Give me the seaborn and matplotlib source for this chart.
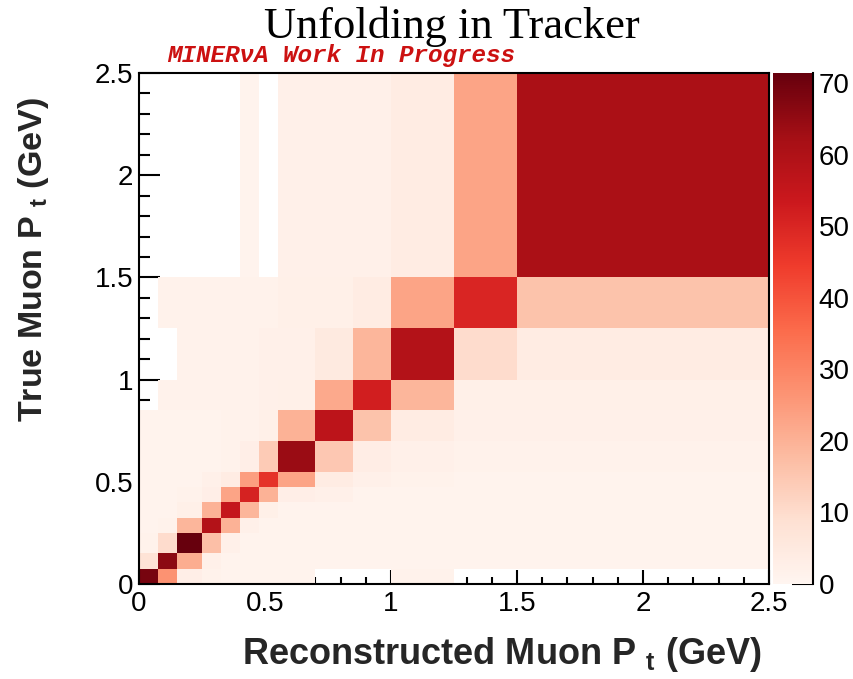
import numpy as np
import pandas as pd
import matplotlib
matplotlib.use("Agg")
import matplotlib.pyplot as plt
from matplotlib.ticker import MultipleLocator, FixedLocator, FuncFormatter
import seaborn as sns

# ---------------- data ----------------
x_edges = [0, 0.075, 0.15, 0.25, 0.325, 0.4, 0.475, 0.55, 0.7, 0.85, 1.0, 1.25, 1.5, 2.5]
y_edges = [0, 0.075, 0.15, 0.25, 0.325, 0.4, 0.475, 0.55, 0.7, 0.85, 1.0, 1.25, 1.5, 2.5]
nan = np.nan
# rows: true-Pt bins from bottom (0) to top (12); columns: reco-Pt bins left to right
row_00 = [69, 27, 3, 1.5, 1, 1, 1, 1, nan, nan, 1.5, nan, nan]
row_01 = [8, 66, 21, 2, 1, 1, 1, 1, 1, 1, 1, 1, 1]
row_02 = [1.5, 10, 71.4, 17, 2, 1, 1, 1, 1, 1, 1, 1, 1]
row_03 = [1, 1.5, 19, 59, 20, 2, 1, 1, 1, 1, 1, 1, 1]
row_04 = [1, 1, 2.5, 20, 55, 19, 2.5, 1, 1, 1, 1, 1, 1]
row_05 = [1, 1, 1.5, 3, 23, 51, 20, 3, 2, 1, 1, 1, 1]
row_06 = [1, 1, 1, 2, 4, 24, 47, 23, 4, 2, 1.5, 1, 1]
row_07 = [1, 1, 1, 1, 1.5, 3, 14, 64, 15, 3.5, 2, 1.5, 1.5]
row_08 = [1, 1, 1, 1, 1.5, 1.5, 2.5, 20, 57, 16, 4, 2, 2]
row_09 = [nan, 1.5, 1.5, 1.5, 1.5, 1.5, 2, 2.5, 22, 52, 19, 2.5, 2.5]
row_10 = [nan, nan, 1.5, 1.5, 1.5, 1.5, 2, 2, 5, 19, 59, 10, 4]
row_11 = [nan, 1.5, 1.5, 1.5, 1.5, 1.5, 1.5, 2.5, 2.5, 4, 23, 50, 16]
row_12 = [nan, nan, nan, nan, nan, 1, nan, 2, 2, 2, 4, 23, 61]
rows = [row_00, row_01, row_02, row_03, row_04, row_05, row_06,
        row_07, row_08, row_09, row_10, row_11, row_12]
x_ticks = [0, 0.5, 1, 1.5, 2, 2.5]
y_ticks = [0, 0.5, 1, 1.5, 2, 2.5]
cbar_ticks = [0, 10, 20, 30, 40, 50, 60, 70]
z_max = 71.4

# build long table from the arrays (cell centres + weights)
xc = [(a + b) / 2 for a, b in zip(x_edges[:-1], x_edges[1:])]
yc = [(a + b) / 2 for a, b in zip(y_edges[:-1], y_edges[1:])]
recs = []
for j, r in enumerate(rows):
    for i, v in enumerate(r):
        if not np.isnan(v):
            recs.append((xc[i], yc[j], v))
df = pd.DataFrame(recs, columns=["reco", "true", "value"])

# ---------------- style ----------------
sns.set_style("white")
plt.rcParams["font.family"] = ["Liberation Sans", "DejaVu Sans"]
plt.rcParams["mathtext.fontset"] = "custom"
plt.rcParams["mathtext.rm"] = "Liberation Sans:bold"
plt.rcParams["mathtext.bf"] = "Liberation Sans:bold"
plt.rcParams["mathtext.it"] = "Liberation Sans:bold"

W, H = 854, 679
fig = plt.figure(figsize=(W / 100, H / 100), dpi=100)
ax = fig.add_axes([139 / W, 1 - 584 / H, 630 / W, 511 / H])
cax = fig.add_axes([773 / W, 1 - 584 / H, 40 / W, 511 / H])

sns.histplot(data=df, x="reco", y="true", weights="value",
             bins=(x_edges, y_edges), cmap="Reds", vmin=0, vmax=z_max,
             cbar=True, cbar_ax=cax, ax=ax)
mesh = ax.collections[0]
mesh.set_clim(0, z_max)

ax.set_xlim(0, 2.5)
ax.set_ylim(0, 2.5)
ax.xaxis.set_major_locator(FixedLocator(x_ticks))
ax.yaxis.set_major_locator(FixedLocator(y_ticks))
ax.xaxis.set_minor_locator(MultipleLocator(0.1))
ax.yaxis.set_minor_locator(MultipleLocator(0.1))
fmt = FuncFormatter(lambda v, p: f"{v:g}")
ax.xaxis.set_major_formatter(fmt)
ax.yaxis.set_major_formatter(fmt)
ax.tick_params(axis="both", which="both", direction="in", colors="black",
               labelsize=20, width=1.5, bottom=True, left=True, top=False, right=False)
ax.tick_params(axis="x", which="major", length=10, pad=5)
ax.tick_params(axis="x", which="minor", length=5)
ax.tick_params(axis="y", which="major", length=15, pad=4)
ax.tick_params(axis="y", which="minor", length=8)
for s in ax.spines.values():
    s.set_visible(True)
    s.set_color("black")
    s.set_linewidth(1.5)
ax.grid(False)

ax.set_xlabel("Reconstructed Muon P $_{\\mathbf{t}}$ (GeV)", fontsize=26,
              fontweight="bold")
ax.set_ylabel("True Muon P $_{\\mathbf{t}}$ (GeV)", fontsize=24.5,
              fontweight="bold")
ax.xaxis.set_label_coords(0.576, -0.1)
ax.yaxis.set_label_coords(-0.14, 0.635)

# colour bar
cb = mesh.colorbar
cb.set_ticks(cbar_ticks)
cb.outline.set_visible(False)
cax.spines["right"].set_visible(True)
cax.spines["right"].set_color("black")
cax.spines["right"].set_linewidth(1.5)
cax.yaxis.set_ticks_position("right")
cax.tick_params(axis="y", direction="in", length=15, width=1.5, labelsize=20,
                pad=4, colors="black")
cax.minorticks_off()

# titles
fig.text(452 / W, 1 - 38 / H, "Unfolding in Tracker", family="Liberation Serif",
         fontsize=32, ha="center", va="baseline", color="black")
fig.text(167 / W, 1 - 62 / H, "MINERνA Work In Progress",
         family=["Liberation Mono", "DejaVu Sans Mono"], fontsize=17.5,
         fontweight="bold", fontstyle="italic", color="#cc1111",
         ha="left", va="baseline")

fig.savefig("out.png", dpi=100)
